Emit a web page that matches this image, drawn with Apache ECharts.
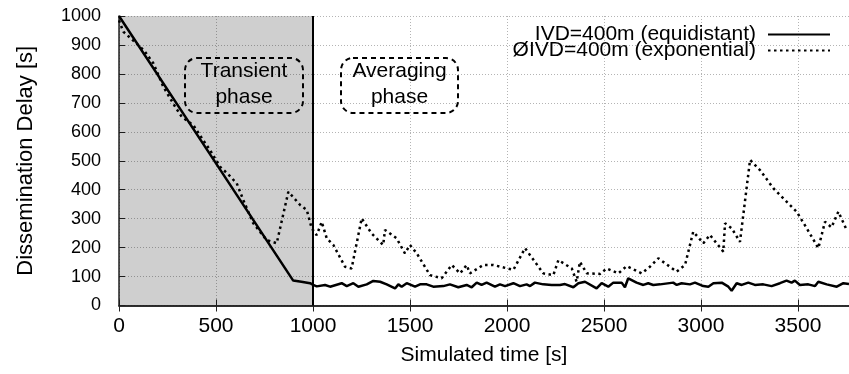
<!DOCTYPE html>
<html>
<head>
<meta charset="utf-8">
<script src="https://cdn.jsdelivr.net/npm/echarts@6/dist/echarts.min.js"></script>
<style>
html,body{margin:0;padding:0;background:#fff;}
#chart{width:849px;height:374px;}
</style>
</head>
<body>
<div id="chart"></div>
<script>
// ---- data ----
var seriesNames = ['IVD=400m (equidistant)', '\u00D8IVD=400m (exponential)'];
var xTicks = [0, 500, 1000, 1500, 2000, 2500, 3000, 3500];
var yTicks = [0, 100, 200, 300, 400, 500, 600, 700, 800, 900, 1000];
var equidistantTime = [0,450,898,940,985,1001,1019,1062,1088,1148,1174,1208,1234,1277,1311,1346,1380,1423,1440,1457,1483,1526,1552,1586,1620,1672,1706,1749,1792,1818,1844,1869,1895,1938,1964,1990,2033,2067,2101,2119,2144,2187,2230,2273,2299,2342,2368,2402,2462,2488,2522,2548,2591,2608,2625,2668,2703,2728,2754,2789,2857,2875,2900,2943,2969,3012,3038,3064,3107,3141,3158,3184,3210,3244,3278,3321,3364,3407,3441,3467,3484,3510,3553,3588,3605,3648,3700,3734,3763];
var equidistantDelay = [1000,542,86,82,77,71,66,71,65,77,67,77,65,73,85,82,73,59,73,65,77,65,73,73,65,67,73,63,71,63,79,71,79,65,73,67,77,67,73,67,79,73,71,71,74,63,77,82,59,77,65,79,79,63,94,79,71,77,71,73,79,71,77,73,79,67,65,77,79,65,51,77,71,79,71,73,67,77,86,79,86,71,73,67,82,73,65,77,74];
var exponentialTime = [0,22,82,130,177,228,289,323,383,430,469,520,560,607,641,692,761,813,873,934,968,993,1019,1045,1071,1105,1165,1199,1251,1302,1362,1371,1431,1474,1500,1535,1603,1663,1715,1758,1792,1809,1878,1930,2033,2093,2187,2239,2265,2334,2359,2376,2411,2479,2514,2574,2617,2694,2737,2780,2875,2918,2960,3012,3046,3115,3124,3158,3201,3253,3304,3373,3493,3545,3605,3639,3673,3708,3751];
var exponentialDelay = [985,946,910,880,837,756,687,652,623,575,537,480,455,422,364,284,226,215,393,347,330,267,243,289,232,209,134,128,301,249,209,261,232,180,209,180,105,94,140,111,140,111,140,140,123,198,111,105,157,128,82,151,111,109,128,111,136,111,134,163,117,140,255,215,244,186,284,267,220,503,468,405,324,267,198,289,270,324,261];
var transientEnd = 1000;

function pairs(xs, ys){ return xs.map(function(x,i){ return [x, ys[i]]; }); }
function plain(v){ return String(v); }

var FONT = 'Liberation Sans, Arial, sans-serif';
var chart = echarts.init(document.getElementById('chart'));
var splitStyle = {show:true, lineStyle:{color:'#b4b4b4', type:[1,2], width:1}};
chart.setOption({
  animation:false,
  backgroundColor:'#fff',
  grid:{left:119, top:16, right:0, bottom:68.5, containLabel:false, outerBoundsMode:'none'},
  legend:{
    right:13, top:19, orient:'vertical', align:'right',
    itemWidth:62, itemHeight:14, itemGap:-5,
    itemStyle:{opacity:0},
    textStyle:{fontSize:21, fontFamily:FONT, color:'#000', padding:[0,7,0,0]},
    data:seriesNames
  },
  xAxis:[{
    type:'value', min:0, max:3763, interval:500,
    axisLine:{show:true, onZero:false, lineStyle:{color:'#222', width:1.5}},
    axisTick:{show:true, inside:true, length:6, lineStyle:{color:'#222'}},
    axisLabel:{fontSize:21, fontFamily:FONT, color:'#000', margin:10, formatter:plain, showMaxLabel:false},
    splitLine:splitStyle,
    name:'Simulated time [s]', nameLocation:'middle', nameGap:39,
    nameTextStyle:{fontSize:21, fontFamily:FONT, color:'#000'}
  },{
    type:'value', position:'top', min:0, max:3763, interval:500,
    axisLine:{show:true, lineStyle:{color:'#222', width:1.5}},
    axisTick:{show:true, inside:true, length:6, lineStyle:{color:'#222'}},
    axisLabel:{show:false}, splitLine:{show:false}
  }],
  yAxis:{
    type:'value', min:0, max:1000, interval:100,
    axisLine:{show:true, onZero:false, lineStyle:{color:'#222', width:1.5}},
    axisTick:{show:true, inside:true, length:6, lineStyle:{color:'#222'}},
    axisLabel:{fontSize:18, fontFamily:FONT, color:'#000', margin:18, formatter:plain},
    splitLine:splitStyle,
    name:'Dissemination Delay [s]', nameLocation:'middle', nameGap:82,
    nameTextStyle:{fontSize:22, fontFamily:FONT, color:'#000'}
  },
  series:[{
    name:seriesNames[0], type:'line', data:pairs(equidistantTime, equidistantDelay),
    symbol:'none', lineStyle:{color:'#000', width:2.5}, itemStyle:{color:'#000'}, z:3,
    markArea:{silent:true, itemStyle:{color:'rgba(0,0,0,0.19)'}, data:[[{xAxis:0},{xAxis:transientEnd}]]},
    markLine:{silent:true, symbol:'none', label:{show:false},
      lineStyle:{color:'#000', type:'solid', width:2}, data:[{xAxis:transientEnd}]}
  },{
    name:seriesNames[1], type:'line', data:pairs(exponentialTime, exponentialDelay),
    symbol:'none', lineStyle:{color:'#000', width:2.5, type:[2.5,3.5], cap:'butt'}, itemStyle:{color:'#000'}, z:4
  }],
  graphic:[
    {type:'rect', shape:{x:185, y:58, width:118, height:55, r:12},
     style:{fill:'none', stroke:'#000', lineWidth:2, lineDash:[5,4]}, z:10},
    {type:'text', x:244, y:84.5, style:{text:'Transient\nphase', font:'21px ' + FONT, fill:'#000',
      textAlign:'center', textVerticalAlign:'middle', lineHeight:26}, z:10},
    {type:'rect', shape:{x:341, y:58, width:117, height:55, r:12},
     style:{fill:'none', stroke:'#000', lineWidth:2, lineDash:[5,4]}, z:10},
    {type:'text', x:399.5, y:84.5, style:{text:'Averaging\nphase', font:'21px ' + FONT, fill:'#000',
      textAlign:'center', textVerticalAlign:'middle', lineHeight:26}, z:10}
  ]
});
</script>
</body>
</html>
